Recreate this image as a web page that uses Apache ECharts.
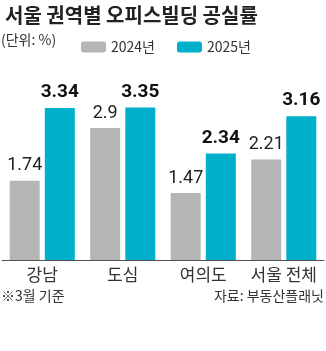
<!DOCTYPE html>
<html><head><meta charset="utf-8">
<script src="https://cdn.jsdelivr.net/npm/echarts@6/dist/echarts.min.js"></script>
<style>html,body{margin:0;padding:0;background:#fff}#c{width:326px;height:351px}</style>
</head><body><div id="c"></div>
<script>
const categories = ['강남', '도심', '여의도', '서울 전체'];
const values2024 = [1.74, 2.9, 1.47, 2.21];
const values2025 = [3.34, 3.35, 2.34, 3.16];
const seriesNames = ['2024년', '2025년'];

const KR = '"Noto Sans CJK KR", "Noto Sans", sans-serif';
const NUM = '"Liberation Sans Narrow", "Roboto", sans-serif';
const chart = echarts.init(document.getElementById('c'), null, {renderer: 'canvas'});
chart.setOption({
  animation: false,
  title: {
    text: '서울 권역별 오피스빌딩 공실률', left: 0, top: 0,
    textStyle: {fontFamily: KR, fontSize: 20, fontWeight: 'bold', color: '#222'}
  },
  legend: {
    left: 76, top: 35, itemWidth: 25, itemHeight: 11, itemGap: 22,
    textStyle: {fontFamily: KR, fontSize: 14, color: '#333'},
    data: seriesNames
  },
  graphic: [
    {type: 'text', left: 1, top: 33, style: {text: '(단위: %)', font: '14px ' + KR, fill: '#333'}},
    {type: 'text', left: 1, top: 289, style: {text: '※3월 기준', font: '14px ' + KR, fill: '#333'}},
    {type: 'text', right: 2, top: 289, style: {text: '자료: 부동산플래닛', font: '14px ' + KR, fill: '#333'}}
  ],
  grid: {left: 2, right: 2, top: 78, bottom: 91},
  xAxis: {
    type: 'category', data: categories,
    axisLine: {lineStyle: {color: '#555', width: 1}},
    axisTick: {show: false},
    axisLabel: {interval: 0, fontFamily: KR, fontSize: 17, color: '#333', margin: 6}
  },
  yAxis: {type: 'value', min: 0, max: 4, show: false, splitLine: {show: false}},
  series: [
    {
      name: seriesNames[0], type: 'bar', data: values2024, barWidth: 30, barGap: '17%',
      itemStyle: {color: '#b5b5b5'},
      label: {show: true, position: 'top', distance: 6, fontFamily: NUM, fontSize: 18, color: '#222'}
    },
    {
      name: seriesNames[1], type: 'bar', data: values2025, barWidth: 30,
      itemStyle: {color: '#00b0ca'},
      label: {show: true, position: 'top', distance: 6, fontFamily: NUM, fontSize: 19, fontWeight: 'bold', color: '#111'}
    }
  ]
});
</script></body></html>
